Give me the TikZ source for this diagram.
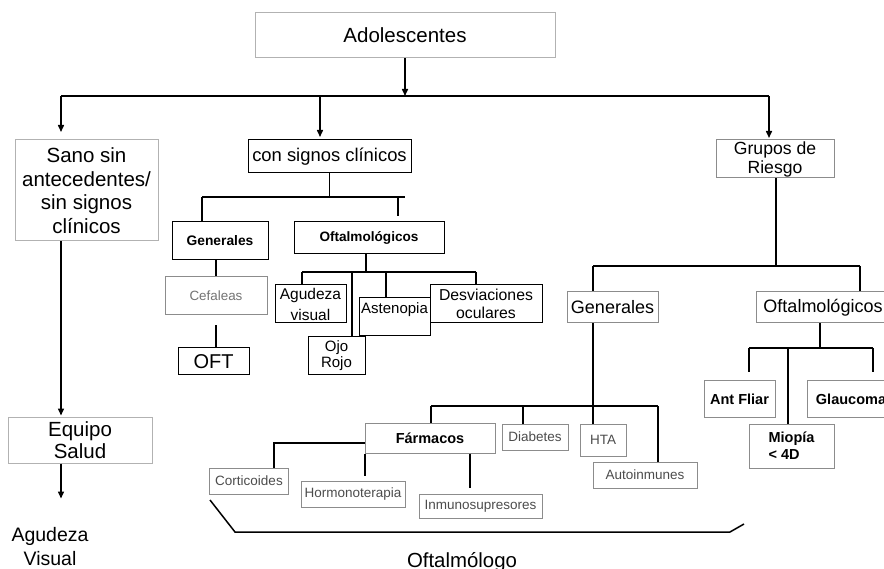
\documentclass[tikz,border=0pt]{standalone}
\usepackage{fontspec}
\setmainfont{Liberation Sans}
\usepackage{tikz}
\usetikzlibrary{positioning,arrows.meta}
\newcommand{\pxfont}[2]{\fontsize{#1}{#2}\selectfont}

\begin{document}
\begin{tikzpicture}[
    x=1pt, y=-1pt,
    line width=1.5pt,
    box/.style={draw=black, line width=1pt, inner sep=0pt, align=center},
    gbox/.style={box, draw=black!45},
    lbox/.style={box, draw=black!30},
    arr/.style={-{Triangle[length=7pt,width=6pt]}},
    smalltxt/.style={font=\pxfont{13.5}{16}, text=black!70},
    boldtxt/.style={font=\pxfont{14.5}{17}\bfseries},
]
\clip (0,0) rectangle (884,569);

% Top level
\node[lbox, minimum width=300pt, minimum height=45pt, font=\pxfont{20.5}{24}] (adol) at (405,35.5) {Adolescentes};
\coordinate (bus) at (405,96);
\coordinate (busL) at (61,96);
\coordinate (busM) at (320,96);
\coordinate (busR) at (769,96);
\draw[arr] (adol) -- (bus);
\draw (busL) -- (busR);

% Left column
\node[lbox, minimum width=143pt, minimum height=101pt, font=\pxfont{20.5}{23.5}] (sano) at (86.5,190.5) {Sano sin\\antecedentes/\\sin signos\\clínicos};
\node[lbox, minimum width=144pt, minimum height=46pt, font=\pxfont{20.5}{22}] (equipo) at (80,440) {Equipo\\Salud};
\node[font=\pxfont{19.5}{24}, align=center] (agvis) at (50,547) {Agudeza\\Visual};
\draw[arr] (busL) -- ++(0,36);
\draw[arr] (sano.south -| busL) -- ++(0,174);
\draw[arr] (equipo.south -| busL) -- ++(0,35);

% Middle column: con signos clinicos
\node[box, minimum width=163pt, minimum height=33pt, font=\pxfont{18.4}{22}] (consig) at (329.5,156.5) {con signos clínicos};
\draw[arr] (busM) -- ++(0,41);
\node[box, minimum width=96pt, minimum height=38pt, font=\pxfont{13.8}{16}\bfseries] (genM) at (220,241) {Generales};
\node[box, minimum width=150pt, minimum height=32pt, font=\pxfont{13.6}{16}\bfseries] (oftM) at (369,238) {Oftalmológicos};
\coordinate (csj) at (329.5,197);
\draw (consig.south) -- (csj);
\draw (csj -| 202,0) -- (csj -| 405,0);
\draw (csj -| 202,0) -- (genM.north -| 202,0);
\draw (csj -| 398,0) -- ++(0,19);

% Generales (middle)
\node[gbox, minimum width=102pt, minimum height=38pt, font=\pxfont{13.4}{16}, text=black!55] (cef) at (216,296) {Cefaleas};
\node[box, minimum width=71pt, minimum height=27pt, font=\pxfont{20}{22}] (oftB) at (213.5,361.5) {OFT};
\draw (cef.north |- genM.south) -- (cef.north);
\draw ([yshift=-10pt]cef.south) -- (oftB.north -| cef.south);

% Oftalmologicos (middle)
\node[box, minimum width=71pt, minimum height=38pt, font=\pxfont{15.5}{21}] (agud) at (310.5,304) {Agudeza\\visual};
\node[box, minimum width=71pt, minimum height=38pt, font=\pxfont{15}{18}, text height=11pt, text depth=17pt] (asten) at (394.5,317) {Astenopia};
\node[box, minimum width=112pt, minimum height=38pt, font=\pxfont{15.8}{18}] (desv) at (486,304) {Desviaciones\\oculares};
\node[box, minimum width=57pt, minimum height=38pt, font=\pxfont{15}{16}] (ojo) at (336.5,356) {Ojo\\Rojo};
\coordinate (oj) at (366,272);
\draw (oftM.south -| oj) -- (oj);
\draw (oj -| 302,0) -- (oj -| 476,0);
\draw (oj -| 302,0) -- (agud.north -| 302,0);
\draw[line width=2.2pt] (oj -| 352,0) -- (ojo.north -| 352,0);
\draw (oj -| 386,0) -- (asten.north -| 386,0);
\draw (oj -| 476,0) -- (desv.north -| 476,0);

% Right column: Grupos de Riesgo
\node[gbox, minimum width=118pt, minimum height=38pt, font=\pxfont{17.6}{19}] (grupos) at (775,159) {Grupos de\\Riesgo};
\draw[arr] (busR) -- ++(0,42);
\node[gbox, minimum width=91pt, minimum height=31pt, font=\pxfont{18}{20}] (genR) at (612.5,307.5) {Generales};
\node[gbox, minimum width=134pt, minimum height=31pt, font=\pxfont{18}{20}] (oftR) at (823,307.5) {Oftalmológicos};
\coordinate (gj) at (776,266);
\draw (grupos.south -| gj) -- (gj);
\draw (gj -| 593,0) -- (gj -| 860,0);
\draw (gj -| 593,0) -- (genR.north -| 593,0);
\draw (gj -| 860,0) -- (oftR.north -| 860,0);

% Oftalmologicos (right)
\node[gbox, minimum width=71pt, minimum height=36pt, boldtxt] (antF) at (739.5,399) {Ant Fliar};
\node[gbox, minimum width=88pt, minimum height=36pt, boldtxt] (glauc) at (851,399) {Glaucoma};
\node[gbox, minimum width=85pt, minimum height=44pt, boldtxt, align=left] (miop) at (791.5,446) {Miopía\\< 4D};
\coordinate (oj2) at (820,348);
\draw (oftR.south -| oj2) -- (oj2);
\draw (oj2 -| 749,0) -- (oj2 -| 873,0);
\draw (oj2 -| 749,0) -- ([yshift=8pt]antF.north -| 749,0);
\draw (oj2 -| 788,0) -- (miop.north -| 788,0);
\draw (oj2 -| 873,0) -- ([yshift=8pt]glauc.north -| 873,0);

% Generales (right)
\node[gbox, minimum width=130pt, minimum height=30pt, boldtxt] (farm) at (430,438) {Fármacos};
\node[gbox, minimum width=66pt, minimum height=26pt, smalltxt] (diab) at (535,437) {Diabetes};
\node[gbox, minimum width=46pt, minimum height=32pt, smalltxt] (hta) at (603,440) {HTA};
\node[gbox, minimum width=104pt, minimum height=26pt, smalltxt] (auto) at (645,475) {Autoinmunes};
\coordinate (fj) at (593,406);
\draw (genR.south -| fj) -- (hta.north -| fj);
\draw (fj -| 431,0) -- (fj -| 658,0);
\draw (fj -| 431,0) -- (farm.north -| 431,0);
\draw (fj -| 523,0) -- (diab.north -| 523,0);
\draw (fj -| 658,0) -- (auto.north -| 658,0);

% Farmacos
\node[gbox, minimum width=78.5pt, minimum height=26pt, smalltxt] (cort) at (249,481) {Corticoides};
\node[gbox, minimum width=104pt, minimum height=26pt, smalltxt] (horm) at (353,494) {Hormonoterapia};
\node[gbox, minimum width=123pt, minimum height=24pt, smalltxt] (inmun) at (480.5,506) {Inmunosupresores};
\draw (farm.west |- 0,443) -| (cort.north -| 274,0);
\draw (farm.south -| 365,0) -- ++(0,22);
\draw (farm.south -| 470,0) -- ++(0,34);

% Bracket
\coordinate (brA) at (210,500);
\coordinate (brB) at (744,524);
\draw (brA) -- (235,532) -- (730,532) -- (brB);
\node[anchor=base, font=\pxfont{20.4}{24}] (oftal) at (462,567.5) {Oftalmólogo};

\end{tikzpicture}
\end{document}
